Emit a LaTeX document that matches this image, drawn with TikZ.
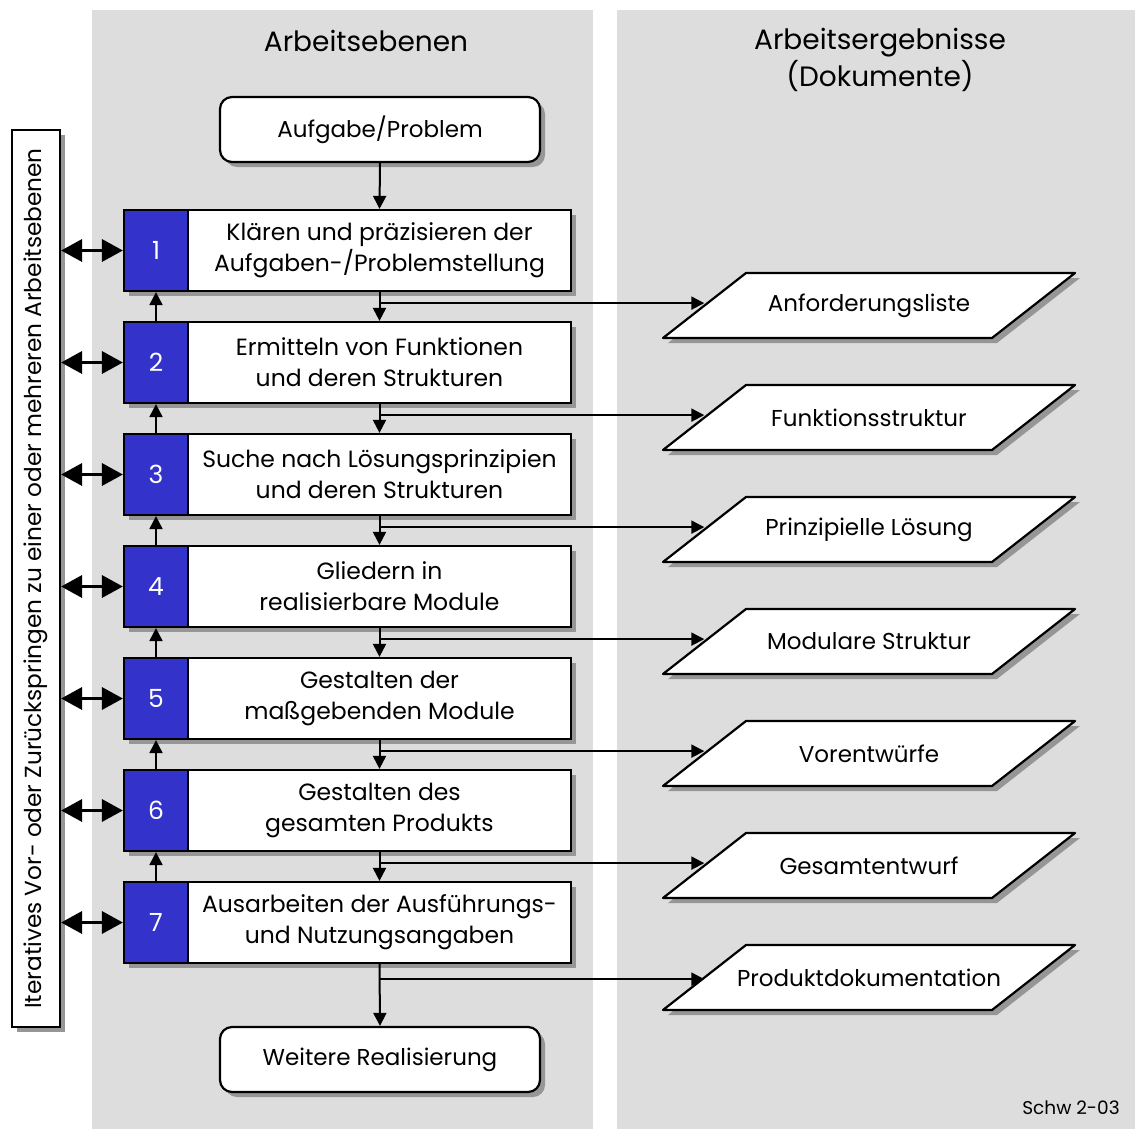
\documentclass[tikz,border=0pt]{standalone}
\usepackage{fontspec}
\setmainfont{Poppins}
\usetikzlibrary{arrows.meta,shadows,calc}
\definecolor{colgray}{RGB}{221,221,221}
\definecolor{shadegray}{RGB}{150,150,150}
\definecolor{stepblue}{RGB}{51,51,204}
\begin{document}
\begin{tikzpicture}[x=1pt,y=-1pt,
  box/.style={draw=black, line width=2.2pt, fill=white, inner sep=0pt,
    drop shadow={shadow xshift=5pt, shadow yshift=-5pt, fill=shadegray, opacity=1}},
  stepbox/.style={box, minimum width=383pt, minimum height=81pt, align=center,
    font=\fontsize{23.5}{31}\selectfont},
  numbox/.style={box, fill=stepblue, text=white, minimum width=64pt, minimum height=81pt,
    font=\fontsize{25}{28}\selectfont},
  endbox/.style={box, rounded corners=12pt, minimum width=320pt, minimum height=65pt,
    font=\fontsize{23}{26}\selectfont},
  doctext/.style={minimum width=329pt, minimum height=65pt, inner sep=0pt,
    font=\fontsize{23}{26}\selectfont},
  flow/.style={line width=2pt, -{Triangle[length=13pt,width=13pt]}},
  jump/.style={line width=3.5pt, {Triangle[length=21pt,width=22pt]}-{Triangle[length=21pt,width=22pt]}},
]
\useasboundingbox (0,0) rectangle (1135,1129);

% background columns
\fill[colgray] (92,10) rectangle (593,1129);
\fill[colgray] (617,10) rectangle (1135,1129);

% column headings
\node[font=\fontsize{28}{37}\selectfont] (h1) at (366,41) {Arbeitsebenen};
\node[font=\fontsize{28}{37}\selectfont, align=center] (h2) at (880,60) {Arbeitsergebnisse\\(Dokumente)};

% vertical side box
\node[box, minimum width=48pt, minimum height=897pt] (iterbox) at (36,578.5) {};
\node[rotate=90, font=\fontsize{23.2}{26}\selectfont] (itertext) at (iterbox.center)
  {Iteratives Vor- oder Zurückspringen zu einer oder mehreren Arbeitsebenen};

% start and end boxes
\node[endbox] (start) at (380,129.5) {Aufgabe/Problem};
\node[endbox] (finish) at (380,1059.5) {Weitere Realisierung};

% working steps
\foreach \k/\txt in {
  1/{Klären und präzisieren der\\Aufgaben-/Problemstellung},
  2/{Ermitteln von Funktionen\\und deren Strukturen},
  3/{Suche nach Lösungsprinzipien\\und deren Strukturen},
  4/{Gliedern in\\realisierbare Module},
  5/{Gestalten der\\maßgebenden Module},
  6/{Gestalten des\\gesamten Produkts},
  7/{Ausarbeiten der Ausführungs-\\und Nutzungsangaben}} {
  \pgfmathsetmacro{\yy}{250.5+112*(\k-1)}
  \node[numbox] (n\k) at (156,\yy) {\k};
  \node[stepbox] (s\k) at (379.5,\yy) {\txt};
}

% result documents
\foreach \k/\txt in {
  1/Anforderungsliste, 2/Funktionsstruktur, 3/Prinzipielle Lösung,
  4/Modulare Struktur, 5/Vorentwürfe, 6/Gesamtentwurf, 7/Produktdokumentation} {
  \pgfmathsetmacro{\yy}{305.5+112*(\k-1)}
  \fill[shadegray] (668,\yy+37.5) -- (997,\yy+37.5) -- (1080,\yy-27.5) -- (751,\yy-27.5) -- cycle;
  \filldraw[fill=white, draw=black, line width=2.2pt, line join=round]
    (663,\yy+32.5) -- (992,\yy+32.5) -- (1075,\yy-32.5) -- (746,\yy-32.5) -- cycle;
  \node[doctext] (p\k) at (869,\yy) {\txt};
}

% main flow
\draw[flow] (start.south) -- (s1.north);
\foreach \k [evaluate=\k as \kk using int(\k+1)] in {1,...,6} {
  \draw[flow] (s\k.south) -- (s\kk.north);
  \draw[flow] (n\kk.north) -- (n\k.south);
  \coordinate (j\k) at ([yshift=-11pt]s\k.south);
  \draw[flow] (j\k) -- (j\k -| p\k.west);
}
\draw[flow] (s7.south) -- (finish.north);
\coordinate (j7) at ([yshift=-15pt]s7.south);
\draw[flow] (j7) -- (j7 -| p7.west);

% iteration jumps
\foreach \k in {1,...,7} {
  \draw[jump] (iterbox.east |- n\k.west) -- (n\k.west);
}

% drawing reference
\node[font=\fontsize{18.5}{22}\selectfont] (ref) at (1071,1108) {Schw 2-03};
\end{tikzpicture}
\end{document}
